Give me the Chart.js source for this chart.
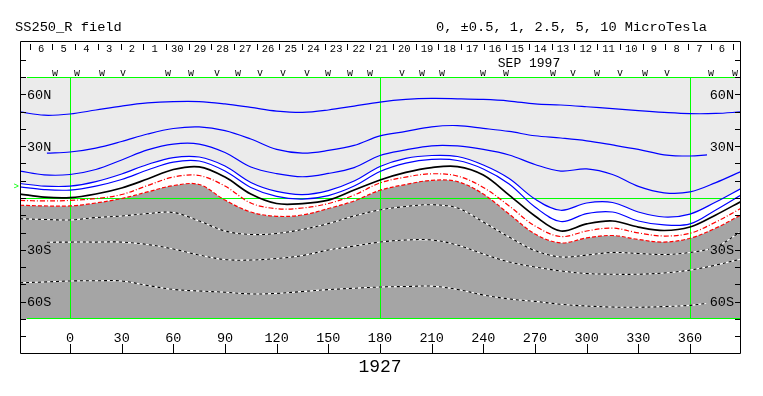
<!DOCTYPE html>
<html><head><meta charset="utf-8">
<script src="https://cdn.jsdelivr.net/npm/chart.js@4/dist/chart.umd.min.js"></script>
<style>html,body{margin:0;padding:0;background:#fff;}#c{display:block;}</style>
</head><body>
<canvas id="c" width="763" height="396"></canvas>
<script>
// ---- data (Carrington longitude, latitude in degrees) ----
const lonGrid = [-29.03,-15,0,15,30,45,60,75,90,105,120,135,150,165,180,195,210,225,240,255,270,285,300,315,330,345,360,375,389.6];
const latA  = [49.8,47.9,48.6,50.9,53.2,55.0,55.8,55.8,54.4,52.4,50.3,49.5,50.9,53.2,55.5,57.0,57.6,57.4,57.0,56.1,54.5,53.8,52.8,51.7,50.5,49.5,48.8,48.9,49.8];
const lonB  = [-13.4,0,15,30,45,60,75,90,105,120,135,150,165,180,195,210,225,240,255,270,285,300,315,330,345,360,369.9];
const latB  = [26.0,26.6,28.9,32.7,37.0,40.2,41.1,39.0,34.1,28.1,26.0,27.5,30.4,35.9,38.5,41.2,41.9,40.3,38.5,36.0,34.7,33.1,30.7,28.1,25.0,24.3,25.0];
const latC  = [15.6,13.4,13.6,16.5,22.0,27.8,31.2,31.2,26.3,17.9,14.1,12.3,14.2,17.6,24.6,27.8,30.2,30.1,28.1,24.9,19.4,15.6,16.8,13.6,6.7,3.0,3.5,8.9,15.3];
const latD  = [8.4,6.9,6.9,9.5,13.9,19.4,23.4,23.7,18.5,9.0,3.8,2.0,4.3,9.8,18.2,22.9,24.6,24.0,19.1,11.3,-0.6,-7.1,-2.9,-2.6,-8.1,-11.0,-9.3,-2.3,5.5];
const latE  = [6.4,4.9,4.6,6.9,10.7,16.2,20.8,21.4,15.6,6.1,0.9,-0.6,1.4,6.9,15.3,20.2,22.3,21.7,16.8,8.1,-5.2,-13.6,-9.0,-8.1,-13.3,-15.6,-15.0,-6.9,1.7];
const latNeutral = [2.3,0.5,0.2,2.3,5.8,11.0,16.5,18.0,12.1,2.3,-3.2,-3.2,-1.2,4.6,10.4,14.8,17.6,18.2,13.3,1.7,-10.4,-19.1,-15.0,-13.3,-16.8,-18.8,-16.8,-9.8,-2.0];
const latR1 = [-1.4,-1.7,-1.4,-0.3,2.0,7.2,12.1,13.0,6.9,-2.9,-6.2,-5.8,-3.2,1.7,8.7,12.1,14.0,12.7,6.1,-4.6,-16.2,-22.3,-19.1,-17.4,-20.2,-22.0,-20.4,-13.9,-6.0];
const latR2 = [-4.2,-4.6,-4.6,-2.9,-0.3,3.5,7.2,7.8,-1.2,-8.1,-10.6,-9.8,-6.1,-1.7,4.5,7.8,10.2,9.5,2.3,-9.3,-20.8,-26.0,-23.1,-21.7,-24.0,-25.5,-23.3,-17.4,-9.8];
const latN1 = [-12.0,-12.4,-12.7,-11.3,-10.4,-9.0,-8.4,-13.3,-19.1,-21.1,-20.5,-18.2,-14.8,-10.4,-6.9,-4.9,-3.9,-5.8,-13.9,-22.6,-30.4,-34.1,-33.0,-31.5,-32.1,-32.7,-31.5,-28.3,-19.4];
const lonN2 = [-13.4,0,15,30,45,60,75,90,105,120,135,150,165,180,195,210,225,240,255,270,285,300,315,330,345,360,375,389.6];
const latN2 = [-25.6,-25.5,-25.5,-25.5,-26.9,-29.5,-33.0,-35.6,-35.9,-35.0,-33.3,-30.1,-27.8,-25.5,-24.3,-24.3,-27.2,-32.4,-37.0,-39.9,-42.2,-43.7,-44.1,-44.1,-43.4,-41.7,-38.8,-35.3];
const lonN3 = [-29.03,-15,0,15,30,45,60,75,90,105,120,135,150,165,180,195,210,225,240,255,270,285,300,315,330,345,360,369.4];
const latN3 = [-49.0,-48.6,-48.0,-47.9,-48.0,-50.6,-52.9,-53.8,-54.5,-55.5,-55.2,-54.1,-53.0,-52.2,-51.5,-51.2,-51.0,-52.9,-56.1,-58.4,-59.8,-61.5,-62.5,-63.1,-63.2,-62.8,-62.1,-61.0];

const lonTicks = [0,30,60,90,120,150,180,210,240,270,300,330,360];
const latLabelVals = [60,30,-30,-60];
const latLabelText = ['60N','30N','30S','60S'];
const dayLabels = ['6','5','4','3','2','1','30','29','28','27','26','25','24','23','22','21','20','19','18','17','16','15','14','13','12','11','10','9','8','7','6'];
const firstDayLon = -16.8, dayStepLon = 13.18;
const wvLon = [-8.7,4.1,18.6,30.8,56.9,70.3,85.4,97.5,110.3,123.7,137.6,149.8,162.6,174.2,192.8,204.4,216.0,239.8,253.2,280.5,292.1,306.0,319.4,333.9,346.7,372.2,386.1];
const wvSym = ['w','w','w','v','w','w','v','w','v','v','v','w','w','w','v','w','w','w','w','w','v','w','v','w','v','w','w'];
const earthLat = 7;
const rotation = '1927';
const monthLabel = 'SEP 1997';
const titleLeft = 'SS250_R field';
const titleRight = '0, \u00B10.5, 1, 2.5, 5, 10 MicroTesla';

const pts = (xs, ys) => xs.map((x, i) => ({x, y: ys[i]}));
const blue = '#0000ff', red = '#ff0000', green = '#00ff00';

const line = (data, color, w, extra) => Object.assign({data, borderColor: color, borderWidth: w, pointRadius: 0, fill: false}, extra || {});

// note: lower dataset index is drawn on top
const datasets = [
  line(pts(lonGrid, latA), blue, 1.2),                    // 0
  line(pts(lonB, latB), blue, 1.2),                       // 1
  line(pts(lonGrid, latC), blue, 1.2),                    // 2
  line(pts(lonGrid, latD), blue, 1.2, {fill: 7, backgroundColor: '#ffffff'}), // 3
  line(pts(lonGrid, latE), blue, 1.2),                    // 4
  line(pts(lonGrid, latNeutral), '#000000', 1.7),         // 5
  line(pts(lonGrid, latR1), red, 1.2, {borderDash: [5,2,1,2]}), // 6
  line(pts(lonGrid, latR2), red, 1.2, {borderDash: [4,2], fill: 'start', backgroundColor: '#a5a5a5'}), // 7
  line(pts(lonGrid, latN1), '#000000', 1.1, {borderDash: [3,3]}),
  line(pts(lonGrid, latN1), '#ffffff', 1.1),
  line(pts(lonN2, latN2), '#000000', 1.1, {borderDash: [3,3]}),
  line(pts(lonN2, latN2), '#ffffff', 1.1),
  line(pts(lonN3, latN3), '#000000', 1.1, {borderDash: [3,3]}),
  line(pts(lonN3, latN3), '#ffffff', 1.1)
];

const MONO = '"Liberation Mono", "DejaVu Sans Mono", monospace';

const deco = {
  id: 'deco',
  beforeDraw(chart) {
    const {ctx, chartArea: a} = chart;
    ctx.save();
    ctx.fillStyle = '#fff'; ctx.fillRect(0, 0, chart.width, chart.height);
    ctx.fillStyle = '#ebebeb'; ctx.fillRect(a.left, a.top, a.right - a.left, a.bottom - a.top);
    ctx.restore();
  },
  beforeDatasetsDraw(chart) {
    const {ctx, chartArea: a, scales: {x, y}} = chart;
    ctx.save();
    ctx.strokeStyle = green; ctx.lineWidth = 1;
    ctx.beginPath();
    [0, 180, 360].forEach(l => { const px = Math.round(x.getPixelForValue(l)) + 0.5; ctx.moveTo(px, a.top); ctx.lineTo(px, a.bottom); });
    const ey = Math.round(y.getPixelForValue(0)) + 0.5;
    ctx.moveTo(a.left, ey); ctx.lineTo(a.right, ey);
    ctx.moveTo(a.left + 7, a.top + 0.5); ctx.lineTo(a.right, a.top + 0.5);
    ctx.moveTo(a.left + 7, a.bottom - 0.5); ctx.lineTo(a.right, a.bottom - 0.5);
    ctx.stroke();
    ctx.restore();
  },
  afterDraw(chart) {
    const {ctx, chartArea: a, scales: {x, y}} = chart;
    ctx.save();
    const L = a.left + 0.5, R = a.right - 0.5, T = 41.5, B = 353.5;
    ctx.strokeStyle = '#000'; ctx.lineWidth = 1;
    ctx.beginPath();
    ctx.moveTo(L, T); ctx.lineTo(R, T); ctx.lineTo(R, B); ctx.lineTo(L, B); ctx.closePath();
    for (let lat = -70; lat <= 70; lat += 10) {
      const py = Math.round(y.getPixelForValue(lat)) + 0.5;
      ctx.moveTo(a.left, py); ctx.lineTo(a.left + 6, py);
      ctx.moveTo(a.right - 6, py); ctx.lineTo(a.right, py);
    }
    [60.5, 336.5].forEach(py => { ctx.moveTo(a.left, py); ctx.lineTo(a.left + 6, py); ctx.moveTo(a.right - 6, py); ctx.lineTo(a.right, py); });
    lonTicks.forEach(l => { const px = Math.round(x.getPixelForValue(l)) + 0.5; ctx.moveTo(px, 344); ctx.lineTo(px, 353); });
    for (let k = 0; k <= dayLabels.length; k++) {
      const px = Math.round(x.getPixelForValue(firstDayLon + (k - 0.5) * dayStepLon)) + 0.5;
      if (px > a.left + 2 && px < a.right - 2) { ctx.moveTo(px, 44); ctx.lineTo(px, 50); }
    }
    ctx.stroke();

    ctx.fillStyle = '#000';
    ctx.textBaseline = 'alphabetic';
    ctx.font = '13.7px ' + MONO;
    ctx.textAlign = 'left'; ctx.fillText(titleLeft, 15, 31);
    ctx.textAlign = 'right'; ctx.fillText(titleRight, 707, 31);
    ctx.font = '10.5px ' + MONO; ctx.textAlign = 'center';
    dayLabels.forEach((d, k) => ctx.fillText(d, x.getPixelForValue(firstDayLon + k * dayStepLon), 51.5));
    ctx.font = '13px ' + MONO;
    ctx.fillText(monthLabel, 529, 67);
    ctx.font = '10px ' + MONO;
    wvLon.forEach((l, i) => ctx.fillText(wvSym[i], x.getPixelForValue(l), 75.5));
    ctx.font = '13.5px ' + MONO;
    lonTicks.forEach(l => ctx.fillText(String(l), x.getPixelForValue(l), 342));
    ctx.font = '18px ' + MONO;
    ctx.fillText(rotation, 380, 372);
    ctx.font = '13.5px ' + MONO; ctx.textBaseline = 'middle';
    latLabelVals.forEach((lat, i) => {
      const py = y.getPixelForValue(lat);
      const t = latLabelText[i];
      const w = ctx.measureText(t).width;
      ctx.fillStyle = lat > 0 ? '#ebebeb' : '#a5a5a5';
      ctx.fillRect(a.left + 7, py - 5, w + 1, 10);
      ctx.fillRect(a.right - 8 - w, py - 5, w + 1, 10);
      ctx.fillStyle = '#000';
      ctx.textAlign = 'left'; ctx.fillText(t, a.left + 7, py + 1);
      ctx.textAlign = 'right'; ctx.fillText(t, a.right - 7, py + 1);
    });
    ctx.fillStyle = green; ctx.font = '9px ' + MONO; ctx.textAlign = 'right';
    ctx.fillText('>', a.left - 1, y.getPixelForValue(earthLat) + 1);
    ctx.restore();
  }
};

new Chart(document.getElementById('c'), {
  type: 'line',
  data: {datasets},
  options: {
    responsive: false, animation: false, devicePixelRatio: 1,
    layout: {padding: {left: 20, right: 22, top: 77, bottom: 77}},
    scales: {
      x: {type: 'linear', min: -29.03, max: 389.63, display: false},
      y: {type: 'linear', min: -70, max: 70, display: false}
    },
    elements: {line: {tension: 0.35}, point: {radius: 0}},
    plugins: {legend: {display: false}, tooltip: {enabled: false}, filler: {drawTime: 'beforeDatasetsDraw'}}
  },
  plugins: [deco]
});
</script>
</body></html>
